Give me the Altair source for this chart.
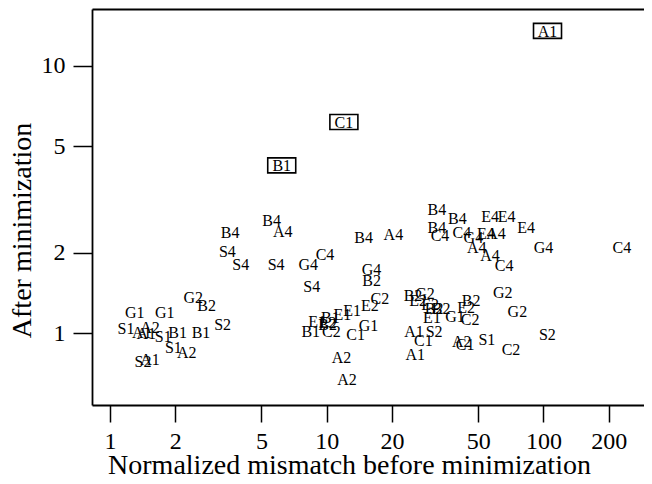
import altair as alt
import pandas as pd

# Regular (unboxed) points: label, normalized mismatch before, after minimization
labels = ["G2", "B2", "G1", "G1", "S2", "S1", "A2", "A1", "A1", "S1", "B1", "B1", "S1", "A2", "S2", "A1",
          "B4", "A4", "B4", "S4", "S4", "S4", "G4", "C4", "S4", "B4", "A4", "G4", "B2",
          "B4", "B4", "E4", "E4", "E4", "B4", "C4", "C4", "G4", "E4", "A4", "A4", "A4", "C4", "G4", "C4",
          "C2", "E2", "E1", "E1", "B1", "E1", "B2", "E2", "B1", "C2", "C1", "G1", "A2", "A2",
          "A1", "C1", "A1", "S2", "E1", "G1", "C2", "B2", "G2", "E2", "E2", "B2", "B2", "E2", "B2",
          "G2", "G2", "S2", "S1", "A2", "C1", "C2"]
before = [2.42, 2.79, 1.30, 1.79, 3.31, 1.185, 1.53, 1.40, 1.47, 1.76, 2.05, 2.63, 1.96, 2.26, 1.42, 1.53,
          5.57, 6.27, 3.58, 3.48, 4.01, 5.84, 8.22, 9.82, 8.53, 14.8, 20.3, 16.1, 16.1,
          32.2, 40.1, 56.7, 67.7, 83.1, 32.2, 33.3, 42.0, 47.5, 54.3, 60.4, 49.2, 56.7, 65.8, 100.0, 230.0,
          17.6, 15.8, 13.1, 11.8, 10.4, 9.02, 10.1, 10.1, 8.44, 10.5, 13.6, 15.6, 11.7, 12.4,
          25.3, 27.9, 25.6, 31.3, 30.6, 39.1, 45.9, 25.0, 28.4, 26.4, 30.0, 31.3, 33.7, 44.0, 46.4,
          64.9, 75.8, 104.2, 54.8, 42.0, 43.5, 70.8]
after = [1.35, 1.26, 1.19, 1.19, 1.07, 1.035, 1.05, 1.00, 0.997, 0.971, 1.00, 1.00, 0.879, 0.842, 0.783, 0.795,
         2.62, 2.40, 2.37, 2.02, 1.80, 1.80, 1.80, 1.96, 1.49, 2.27, 2.33, 1.73, 1.57,
         2.89, 2.68, 2.73, 2.71, 2.48, 2.48, 2.30, 2.37, 2.27, 2.35, 2.35, 2.08, 1.94, 1.79, 2.08, 2.09,
         1.34, 1.26, 1.21, 1.166, 1.144, 1.098, 1.069, 1.093, 1.01, 1.01, 0.985, 1.06, 0.806, 0.668,
         1.014, 0.938, 0.830, 1.014, 1.136, 1.15, 1.117, 1.38, 1.40, 1.32, 1.28, 1.23, 1.23, 1.24, 1.32,
         1.41, 1.205, 0.985, 0.944, 0.930, 0.904, 0.866]

# Boxed (outlier) points
box_labels = ["A1", "C1", "B1"]
box_before = [104.4, 12.0, 6.2]
box_after = [13.5, 6.16, 4.24]

x_ticks = [1, 2, 5, 10, 20, 50, 100, 200]
y_ticks = [1, 2, 5, 10]

df = pd.DataFrame({"label": labels, "before": before, "after": after})
dfb = pd.DataFrame({"label": box_labels, "before": box_before, "after": box_after})

FONT = "Liberation Serif"
xscale = alt.Scale(type="log", domain=[0.826, 291], nice=False)
yscale = alt.Scale(type="log", domain=[0.539, 16.3], nice=False)

xaxis = alt.Axis(values=x_ticks, format="d", grid=False, domain=True, domainColor="black",
                 domainWidth=1.8, tickColor="black", tickWidth=1.5, tickSize=17,
                 labelFontSize=24, labelFont=FONT, labelColor="black", labelPadding=7,
                 title="Normalized mismatch before minimization", titleFont=FONT,
                 titleFontSize=28, titleFontWeight="normal", titleColor="black",
                 titleBaseline="alphabetic", titleY=68, titleX=257, titleAlign="center")
yaxis = alt.Axis(values=y_ticks, format="d", grid=False, domain=True, domainColor="black",
                 domainWidth=1.8, tickColor="black", tickWidth=1.5, tickSize=19,
                 labelFontSize=24, labelFont=FONT, labelColor="black", labelPadding=8,
                 title="After minimization", titleFont=FONT, titleFontSize=28,
                 titleFontWeight="normal", titleColor="black", titleAngle=270,
                 titleAlign="center", titleBaseline="middle", titleX=-70, titleY=221)
topaxis = alt.Axis(orient="top", labels=False, ticks=False, grid=False, domain=True,
                   domainColor="black", domainWidth=1.8, title=None)

text_layer = alt.Chart(df).mark_text(font=FONT, fontSize=16, color="black",
                                     align="center", baseline="middle").encode(
    x=alt.X("before:Q", scale=xscale, axis=xaxis),
    y=alt.Y("after:Q", scale=yscale, axis=yaxis),
    text="label:N",
)

box_shape = alt.Chart(dfb).mark_point(
    shape="M-1,-0.536H1V0.536H-1Z", size=784, filled=False, stroke="black",
    strokeWidth=1.6, opacity=1).encode(
    x=alt.X("before:Q", scale=xscale, axis=topaxis),
    y=alt.Y("after:Q", scale=yscale, axis=None),
)

box_text = alt.Chart(dfb).mark_text(font=FONT, fontSize=16, color="black",
                                    align="center", baseline="middle", dy=1).encode(
    x=alt.X("before:Q", scale=xscale, axis=None),
    y=alt.Y("after:Q", scale=yscale, axis=None),
    text="label:N",
)

chart = alt.layer(text_layer, box_shape, box_text).resolve_axis(
    x="independent", y="independent"
).properties(
    width=552, height=396,
    autosize=alt.AutoSizeParams(type="none"),
    padding={"left": 84, "top": 1, "right": 0, "bottom": 69},
    background="white",
).configure(
    font=FONT
).configure_axis(
    labelFont=FONT, titleFont=FONT
).configure_text(
    font=FONT
).configure_view(stroke=None)

chart.save("out.html", embed_options={"renderer": "svg", "actions": False})
